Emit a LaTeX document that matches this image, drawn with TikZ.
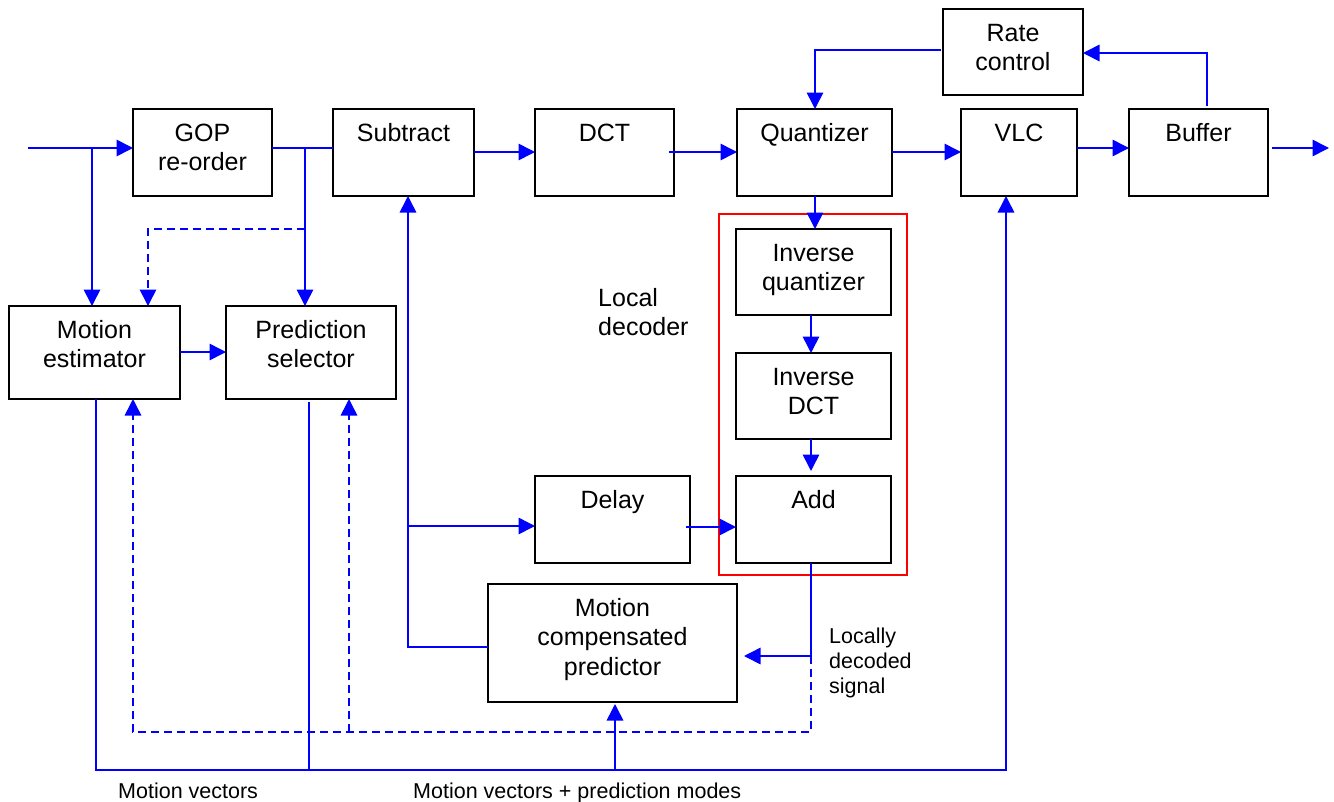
\documentclass[tikz,border=0pt]{standalone}
\usepackage{fontspec}
\setmainfont{Liberation Sans}
\usetikzlibrary{arrows.meta,calc}

\tikzset{
  blk/.style={draw=black, line width=1.8pt, inner sep=0pt, outer sep=0pt},
  blktxt/.style={anchor=base, inner sep=0pt,
    font=\fontsize{25}{29.5}\selectfont},
  note/.style={anchor=base west, inner sep=0pt,
    font=\fontsize{21.5}{25}\selectfont},
  bignote/.style={anchor=base west, inner sep=0pt,
    font=\fontsize{25}{29.5}\selectfont},
  ln/.style={draw=blue, line width=1.6pt},
  arr/.style={ln, -{Triangle[length=16.5pt, width=16.5pt]}},
  dsh/.style={dash pattern=on 8pt off 5pt},
  grp/.style={draw=red, line width=1.6pt}
}

% stacked lines whose baseline is the first line's baseline
\newcommand\lines[2]{\begin{tabular}[t]{@{}#1@{}}#2\end{tabular}}

% block: name, x1, y1, x2, y2, text (text hangs from the top edge)
\newcommand\blk[6]{%
  \node[blk, minimum width={#4-#2}, minimum height={#5-#3}]
    (#1) at ({(#2+#4)/2},{(#3+#5)/2}) {};
  \node[blktxt] (#1-t) at ([yshift=-32pt]#1.north) {\lines{c}{#6}};}

\begin{document}
\begin{tikzpicture}[x=1pt, y=-1pt]
\useasboundingbox (0,0) rectangle (1334,801);

% local decoder group
\draw[grp] (719,214) rectangle (907,575);

% blocks
\blk{gop}{133}{109}{272}{196}{GOP\\re-order}
\blk{sub}{333}{109}{474}{196}{Subtract}
\blk{dct}{535}{109}{674}{196}{DCT}
\blk{qnt}{737}{109}{892}{196}{Quantizer}
\blk{vlc}{961}{109}{1077}{196}{VLC}
\blk{buf}{1129}{109}{1268}{196}{Buffer}
\blk{rc}{943}{9}{1083}{95}{Rate\\control}
\blk{me}{9}{306}{180}{399}{Motion\\estimator}
\blk{ps}{226}{306}{396}{399}{Prediction\\selector}
\blk{iq}{736}{229}{891}{315}{Inverse\\quantizer}
\blk{idct}{736}{353}{891}{439}{Inverse\\DCT}
\blk{add}{736}{476}{891}{563}{Add}
\blk{dly}{535}{476}{690}{563}{Delay}
\blk{mcp}{488}{584}{737}{702}{Motion\\compensated\\predictor}

% free labels
\node[bignote] (ld) at (598,306) {\lines{l}{Local\\decoder}};
\node[note] (lds) at (829,643) {\lines{l}{Locally\\decoded\\signal}};
\node[note] (mv) at (118,798) {Motion vectors};
\node[note] (mvpm) at (413,798) {Motion vectors + prediction modes};

% junction and end points
\coordinate (in) at (28,148);
\coordinate (out) at (1329,148);
\coordinate (s1) at (92,148);
\coordinate (s2) at (305,148);
\coordinate (s3) at (305,229);
\coordinate (s4) at (408,526);
\coordinate (s5) at (811,656);
\coordinate (s6) at (349,732);
\coordinate (s7) at (615,770);
\coordinate (s8) at (309,770);

% main forward path
\draw[arr] (in) -- (gop.west |- in);
\draw[arr] (s1) -- (s1 |- me.north);
\draw[ln] (gop.east |- in) -- (sub.west |- in);
\draw[arr] (s2) -- (s2 |- ps.north);
\draw[arr, dsh] (s3) -- (148,229) -- (me.north -| 148,0);
\draw[arr] (me.east |- 0,352) -- (ps.west |- 0,352);
\draw[arr] (sub.east |- 0,152) -- (dct.west |- 0,152);
\draw[arr] ([xshift=-5pt]dct.east |- 0,152) -- (qnt.west |- 0,152);
\draw[arr] (qnt.east |- 0,152) -- (vlc.west |- 0,152);
\draw[arr] (vlc.east |- 0,148) -- (buf.west |- 0,148);
\draw[arr] ([xshift=4pt]buf.east |- out) -- (out);

% rate control loop
\draw[arr] ([xshift=-2pt]rc.west |- 0,50) -- (815,50) -- (qnt.north -| 815,0);
\draw[arr] ([yshift=3pt]buf.north -| 1207,0) -- (1207,53) -- (rc.east |- 0,53);

% local decoder
\draw[arr] (qnt.south -| 815,0) -- (iq.north -| 815,0);
\draw[arr] (iq.south -| 811,0) -- (idct.north -| 811,0);
\draw[arr] (idct.south -| 811,0) -- ([yshift=5pt]add.north -| 811,0);
\draw[arr] (mcp.west |- 0,647) -- (408,647) -- (sub.south -| 408,0);
\draw[arr] (s4) -- (dly.west |- s4);
\draw[arr] ([xshift=-4pt]dly.east |- 0,527) -- (add.west |- 0,527);
\draw[arr] (add.south -| s5) -- (s5) -- ([xshift=7pt]mcp.east |- s5);

% prediction feedback (dashed)
\draw[arr, dsh] (s5) -- (811,732) -- (133,732) -- (me.south -| 133,0);
\draw[arr, dsh] (s6) -- (ps.south -| s6);

% motion vectors
\draw[arr] (me.south -| 96,0) -- (96,770) -- (1006,770) -- (vlc.south -| 1006,0);
\draw[ln] ([yshift=-3pt]ps.south -| s8) -- (s8);
\draw[arr] (s7) -- ([yshift=-2pt]mcp.south -| s7);

\end{tikzpicture}
\end{document}
